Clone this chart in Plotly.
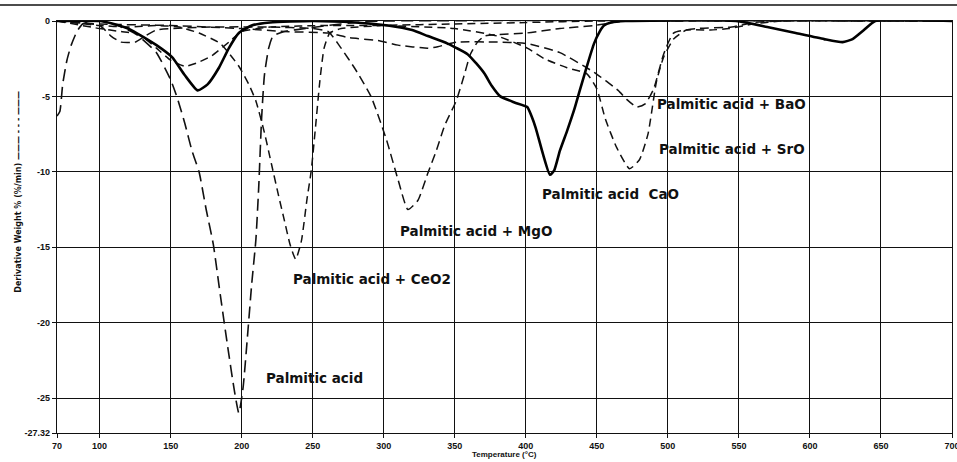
import plotly.graph_objects as go

# ---------------- data ----------------
x_pa = [70, 72, 74, 77, 80, 84, 88, 95, 100, 110, 120, 126, 130, 140, 150, 155, 160, 165, 170, 175,
        180, 185, 190, 195, 198, 201, 204, 207, 210, 212, 214, 216, 219, 222, 230, 245, 260, 280, 300, 700]
y_pa = [-6.3, -6.0, -4.2, -2.6, -1.6, -0.7, -0.2, 0, 0, -0.2, -0.6, -0.9, -1.2, -2.1, -3.9, -5.2, -6.8, -8.6, -10.0, -12.5,
        -14.8, -18.2, -21.5, -24.6, -26.0, -24.3, -21.0, -17.5, -14.5, -11.0, -6.5, -3.6, -1.8, -1.0, -0.7, -0.5, -0.3, -0.1, 0, 0]

x_ce = [70, 100, 120, 140, 156, 170, 185, 198, 205, 210, 216, 221, 226, 230, 234, 238, 242, 246, 249, 252,
        255, 258, 262, 270, 300, 350, 400, 450, 700]
y_ce = [0, -0.3, -0.4, -0.3, -0.4, -0.8, -1.5, -3.0, -4.2, -5.3, -7.4, -9.5, -11.6, -13.2, -14.8, -15.8, -14.6, -11.8, -9.9, -7.0,
        -4.0, -1.8, -0.8, -0.5, -0.3, -0.2, -0.1, 0, 0]

x_mg = [70, 100, 108, 115, 125, 132, 140, 180, 220, 250, 261, 270, 280, 291, 302, 310, 317, 324, 331, 337,
        343, 351, 356, 361, 366, 371, 380, 400, 424, 448, 470, 700]
y_mg = [0, -0.3, -1.0, -1.4, -1.4, -1.0, -0.6, -0.4, -0.4, -0.5, -0.7, -1.8, -3.2, -5.0, -7.9, -10.5, -12.5, -11.9, -10.1, -8.6,
        -6.9, -5.3, -3.8, -2.2, -1.4, -1.0, -0.9, -0.8, -0.5, -0.3, 0, 0]

x_ca = [70, 100, 110, 120, 126, 140, 151, 160, 169, 176, 184, 191, 198, 207, 220, 250, 280, 303, 320, 331,
        345, 359, 365, 371, 376, 382, 392, 401, 404, 407, 412, 417, 420, 424, 429, 434, 438, 443, 448, 452,
        455, 460, 470, 548, 570, 590, 610, 623, 630, 638, 646, 700]
y_ca = [0, 0, -0.2, -0.5, -0.8, -1.6, -2.4, -3.6, -4.6, -4.2, -3.1, -1.8, -0.8, -0.3, -0.1, 0, -0.1, -0.3, -0.6, -1.0,
        -1.5, -2.2, -2.8, -3.5, -4.3, -5.0, -5.4, -5.7, -6.3, -7.1, -8.8, -10.2, -9.9, -8.6, -7.3, -5.9, -4.6, -3.0, -1.5, -0.7,
        -0.3, -0.1, 0, 0, -0.4, -0.8, -1.2, -1.4, -1.2, -0.6, 0, 0]

x_sr = [70, 100, 115, 128, 140, 150, 160, 168, 179, 191, 200, 220, 260, 300, 350, 380, 401, 413, 429, 443,
        450, 456, 464, 473, 480, 486, 492, 497, 504, 513, 530, 543, 560, 580, 700]
y_sr = [0, -0.5, -0.7, -0.9, -1.8, -2.6, -3.0, -2.8, -2.3, -1.4, -0.7, -0.4, -0.3, -0.3, -0.5, -1.0, -1.8, -2.5, -3.1, -3.5,
        -4.5, -6.5, -8.4, -9.8, -9.2, -7.5, -4.0, -2.4, -1.2, -0.6, -0.6, -0.5, -0.2, 0, 0]

x_ba = [70, 100, 150, 200, 230, 261, 275, 296, 310, 331, 338, 352, 380, 401, 424, 448, 465, 471, 478, 484,
        490, 497, 504, 520, 545, 560, 580, 700]
y_ba = [0, -0.2, -0.3, -0.5, -0.7, -0.8, -1.1, -1.3, -1.6, -1.8, -1.7, -1.4, -1.4, -1.5, -2.1, -3.4, -4.6, -5.2, -5.7, -5.5,
        -4.5, -2.2, -0.8, -0.5, -0.4, -0.1, 0, 0]

x_ticks = [70, 100, 150, 200, 250, 300, 350, 400, 450, 500, 550, 600, 650, 700]
y_ticks = [-27.32, -25, -20, -15, -10, -5, 0]
y_ticktext = ["-27.32", "-25", "-20", "-15", "-10", "-5", "0"]

labels = ["Palmitic acid + BaO", "Palmitic acid + SrO", "Palmitic acid\u00a0\u00a0CaO",
          "Palmitic acid + MgO", "Palmitic acid + CeO2", "Palmitic acid"]
label_x = [490.7, 492.1, 410.2, 310.1, 234.5, 215.6]
label_y = [-5.5, -8.5, -11.5, -13.9, -17.1, -23.7]

# ---------------- figure ----------------
fig = go.Figure()
series = [
    (x_pa, y_pa, "Palmitic acid", "12px,6px", 1.6),
    (x_ce, y_ce, "Palmitic acid + CeO2", "8px,5px", 1.5),
    (x_mg, y_mg, "Palmitic acid + MgO", "9px,5px", 1.5),
    (x_sr, y_sr, "Palmitic acid + SrO", "8px,5px", 1.5),
    (x_ba, y_ba, "Palmitic acid + BaO", "9px,5px", 1.5),
]
for xs, ys, name, dash, w in series:
    fig.add_trace(go.Scatter(x=xs, y=ys, mode="lines", name=name, line_shape="spline",
                             line=dict(color="#111111", width=w, dash=dash, smoothing=0.5)))
fig.add_trace(go.Scatter(x=x_ca, y=y_ca, mode="lines", name="Palmitic acid + CaO", line_shape="spline",
                         line=dict(color="#000000", width=2.6, smoothing=0.5)))

for t, lx, ly in zip(labels, label_x, label_y):
    fig.add_annotation(x=lx, y=ly, text=t, showarrow=False, xanchor="left", yanchor="middle",
                       font=dict(family="DejaVu Sans", size=13.5, color="#111111", weight="bold"))

# axis titles as annotations
fig.add_annotation(xref="paper", yref="paper", x=-0.05, y=0.585, textangle=-90,
                   text="Derivative Weight % (%/min) \u2014\u2014\u2014 - - - \u2014\u2014\u2014", showarrow=False,
                   font=dict(family="DejaVu Sans", size=8, color="#111111", weight="bold"))
fig.add_annotation(xref="paper", yref="paper", x=0.5, y=-0.053, yanchor="middle",
                   text="Temperature (°C)", showarrow=False,
                   font=dict(family="Liberation Sans", size=8, color="#111111", weight="bold"))

# outer top frame line of the scanned figure
fig.add_shape(type="line", xref="paper", yref="paper", x0=-0.07, x1=1.01, y0=1.0388, y1=1.0388,
              line=dict(color="#111111", width=1.6))

fig.update_xaxes(range=[70, 700], tickvals=x_ticks, showgrid=True, gridcolor="#111111", gridwidth=1.2,
                 showline=True, linecolor="#111111", linewidth=1.2, mirror=True, zeroline=False,
                 ticks="outside", ticklen=4, tickcolor="#111111", ticklabeloverflow="allow",
                 automargin=False,
                 tickfont=dict(family="Liberation Sans", size=9, color="#111111", weight="bold"))
fig.update_yaxes(range=[-27.32, 0], tickvals=y_ticks, ticktext=y_ticktext, showgrid=True,
                 gridcolor="#111111", gridwidth=1.2, showline=True, linecolor="#111111", linewidth=1.2,
                 mirror=True, zeroline=False, ticks="outside", ticklen=4, tickcolor="#111111",
                 automargin=False,
                 tickfont=dict(family="Liberation Sans", size=9, color="#111111", weight="bold"))

fig.update_layout(width=957, height=462, margin=dict(l=57, r=5, t=21, b=29),
                  plot_bgcolor="white", paper_bgcolor="white", showlegend=False)

fig.write_html("out.html")
